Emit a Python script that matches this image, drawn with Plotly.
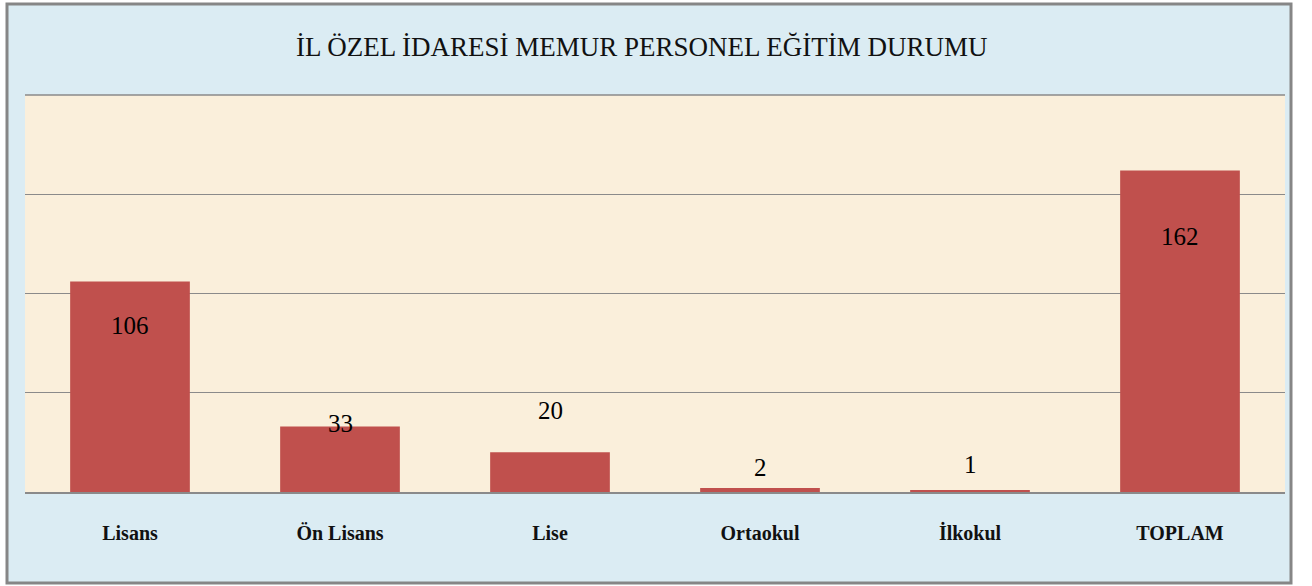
import plotly.graph_objects as go

categories = ["Lisans", "Ön Lisans", "Lise", "Ortaokul", "İlkokul", "TOPLAM"]
values = [106, 33, 20, 2, 1, 162]
title_text = "İL ÖZEL İDARESİ MEMUR PERSONEL EĞİTİM DURUMU"
y_ticks = [0, 50, 100, 150, 200]

# style: vertical shift (px) of each value label relative to the bar top
label_yshift = [-44, 3, 42, 21, 26, -66]

W, H = 1312, 586
L, R, T, B = 25, 1285, 95, 492  # plot area in pixels
ph = B - T
pw = R - L

fig = go.Figure()
fig.add_trace(go.Bar(
    x=categories, y=values,
    marker=dict(color="#c0504d", line=dict(width=0)),
    width=0.57,
    hoverinfo="skip",
))

for c, v, s in zip(categories, values, label_yshift):
    fig.add_annotation(x=c, y=v, text=str(v), showarrow=False,
                       yshift=s, xref="x", yref="y",
                       font=dict(family="Liberation Serif", size=25, color="#000000"))

def fx(px):
    return (px - L) / pw

def fy(py):
    return (B - py) / ph

# outer chart box
fig.add_shape(type="rect", xref="paper", yref="paper",
              x0=fx(7), x1=fx(1291), y0=fy(583), y1=fy(4),
              fillcolor="#dbecf3", line=dict(color="#868686", width=3),
              layer="below")
# plot area background
fig.add_shape(type="rect", xref="paper", yref="paper",
              x0=0, x1=1, y0=0, y1=1,
              fillcolor="#faefdb", line=dict(width=0),
              layer="below")

fig.add_annotation(xref="paper", yref="paper", x=fx(641), y=fy(47),
                   text=title_text, showarrow=False, xanchor="center", yanchor="middle",
                   font=dict(family="Liberation Serif", size=27, color="#111111"))

fig.update_layout(
    width=W, height=H,
    margin=dict(l=L, r=W - R, t=T, b=H - B, pad=0),
    paper_bgcolor="white",
    plot_bgcolor="#faefdb",
    showlegend=False,
    bargap=0.43,
)
fig.update_xaxes(
    showline=True, linecolor="#8a8a8a", linewidth=1.5,
    showgrid=False, ticks="", ticklabelstandoff=22,
    tickfont=dict(family="Liberation Serif", size=20, color="#111111", weight="bold"),
)
fig.update_yaxes(
    range=[0, 200], tickvals=y_ticks, showticklabels=False,
    showgrid=True, gridcolor="#8a8a8a", gridwidth=1,
    zeroline=False, showline=False,
)
# top gridline
fig.add_shape(type="line", xref="paper", yref="paper", x0=0, x1=1, y0=1, y1=1,
              line=dict(color="#8a8a8a", width=1.5))

fig.write_html("out.html", config={"displayModeBar": False},
               post_script="document.body.style.margin='0';document.body.style.overflow='hidden';")
